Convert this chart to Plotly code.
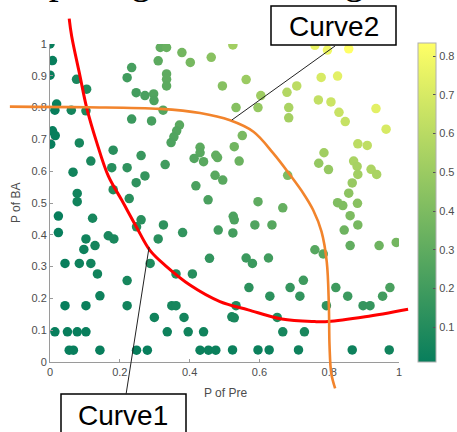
import plotly.graph_objects as go

# ---------------- data ----------------
px_pre = [0.000, 0.007, 0.000, 0.019, 0.014, 0.061, 0.103, 0.076, 0.105, 0.007,
          0.015, 0.002, 0.084, 0.117, 0.066, 0.181, 0.177, 0.181, 0.078, 0.078,
          0.024, 0.024, 0.122, 0.103, 0.097, 0.129, 0.167, 0.183, 0.043, 0.084,
          0.117, 0.136, 0.143, 0.043, 0.103, 0.014, 0.050, 0.078, 0.103, 0.055,
          0.067, 0.143, 0.221, 0.227, 0.247, 0.272, 0.261, 0.330, 0.234, 0.221,
          0.247, 0.272, 0.297, 0.298, 0.324, 0.234, 0.291, 0.316, 0.334, 0.310,
          0.378, 0.402, 0.334, 0.334, 0.334, 0.371, 0.363, 0.355, 0.347, 0.430,
          0.430, 0.413, 0.440, 0.475, 0.480, 0.473, 0.495, 0.418, 0.453, 0.462,
          0.524, 0.494, 0.221, 0.221, 0.248, 0.261, 0.325, 0.310, 0.380, 0.287,
          0.361, 0.408, 0.349, 0.361, 0.299, 0.384, 0.336, 0.396, 0.440, 0.248,
          0.279, 0.430, 0.454, 0.475, 0.457, 0.482, 0.562, 0.604, 0.533, 0.596,
          0.679, 0.707, 0.684, 0.684, 0.759, 0.795, 0.856, 0.777, 0.824, 0.769,
          0.805, 0.828, 0.846, 0.934, 0.963, 0.882, 0.909, 0.551, 0.528, 0.542,
          0.681, 0.785, 0.770, 0.798, 0.870, 0.880, 0.882, 0.920, 0.936, 0.866,
          0.856, 0.596, 0.824, 0.839, 0.881, 0.667, 0.525, 0.528, 0.524, 0.587,
          0.636, 0.860, 0.882, 0.843, 0.860, 0.943, 0.992, 0.759, 0.783, 0.562,
          0.580, 0.626, 0.726, 0.570, 0.688, 0.630, 0.716, 0.819, 0.853, 0.974,
          0.953, 0.897, 0.917, 0.792, 0.533, 0.521, 0.528, 0.651, 0.667, 0.729,
          0.523, 0.596, 0.628, 0.712, 0.866, 0.972]
p_ba = [1.000, 0.948, 0.902, 0.811, 0.792, 0.792, 0.790, 0.889, 0.858, 0.727,
        0.712, 0.685, 0.689, 0.632, 0.597, 0.666, 0.611, 0.542, 0.530, 0.504,
        0.459, 0.407, 0.452, 0.387, 0.354, 0.366, 0.397, 0.387, 0.310, 0.310,
        0.310, 0.277, 0.208, 0.177, 0.177, 0.095, 0.095, 0.095, 0.095, 0.037,
        0.037, 0.037, 0.611, 0.514, 0.564, 0.585, 0.649, 0.621, 0.926, 0.894,
        0.847, 0.838, 0.843, 0.822, 0.792, 0.764, 0.758, 0.989, 0.989, 0.947,
        0.973, 0.942, 0.906, 0.889, 0.868, 0.745, 0.727, 0.708, 0.690, 0.675,
        0.658, 0.640, 0.630, 0.650, 0.643, 0.587, 0.572, 0.554, 0.510, 0.958,
        0.997, 0.868, 0.256, 0.177, 0.425, 0.447, 0.431, 0.387, 0.407, 0.310,
        0.277, 0.277, 0.177, 0.177, 0.140, 0.140, 0.095, 0.095, 0.095, 0.037,
        0.037, 0.037, 0.037, 0.037, 0.326, 0.415, 0.888, 0.838, 0.800, 0.800,
        0.848, 0.868, 0.800, 0.768, 0.996, 0.981, 0.985, 0.895, 0.899, 0.824,
        0.818, 0.785, 0.756, 0.797, 0.732, 0.686, 0.681, 0.712, 0.677, 0.632,
        0.587, 0.658, 0.625, 0.605, 0.632, 0.615, 0.590, 0.606, 0.590, 0.563,
        0.531, 0.504, 0.501, 0.492, 0.499, 0.485, 0.458, 0.447, 0.406, 0.431,
        0.431, 0.460, 0.431, 0.415, 0.366, 0.366, 0.376, 0.353, 0.340, 0.327,
        0.310, 0.327, 0.257, 0.234, 0.234, 0.207, 0.207, 0.234, 0.207, 0.234,
        0.207, 0.177, 0.177, 0.177, 0.177, 0.142, 0.139, 0.140, 0.095, 0.095,
        0.038, 0.038, 0.038, 0.038, 0.038, 0.038]
color_val = [0.00, 0.01, 0.00, 0.02, 0.01, 0.05, 0.08, 0.07, 0.09, 0.01,
             0.01, 0.00, 0.06, 0.07, 0.04, 0.12, 0.11, 0.10, 0.04, 0.04,
             0.01, 0.01, 0.06, 0.04, 0.03, 0.05, 0.07, 0.07, 0.01, 0.03,
             0.04, 0.04, 0.03, 0.01, 0.02, 0.00, 0.00, 0.01, 0.01, 0.00,
             0.00, 0.01, 0.14, 0.12, 0.14, 0.16, 0.17, 0.20, 0.22, 0.20,
             0.21, 0.23, 0.25, 0.24, 0.26, 0.18, 0.22, 0.31, 0.33, 0.29,
             0.37, 0.38, 0.30, 0.30, 0.29, 0.28, 0.26, 0.25, 0.24, 0.29,
             0.28, 0.26, 0.28, 0.31, 0.31, 0.28, 0.28, 0.23, 0.23, 0.44,
             0.52, 0.43, 0.06, 0.04, 0.11, 0.12, 0.14, 0.12, 0.15, 0.09,
             0.10, 0.11, 0.06, 0.06, 0.04, 0.05, 0.03, 0.04, 0.04, 0.01,
             0.01, 0.02, 0.02, 0.02, 0.15, 0.20, 0.50, 0.51, 0.43, 0.48,
             0.58, 0.61, 0.55, 0.53, 0.76, 0.78, 0.84, 0.70, 0.74, 0.63,
             0.66, 0.65, 0.64, 0.74, 0.70, 0.61, 0.62, 0.39, 0.36, 0.34,
             0.40, 0.52, 0.48, 0.48, 0.55, 0.54, 0.52, 0.56, 0.55, 0.49,
             0.45, 0.30, 0.41, 0.41, 0.44, 0.32, 0.24, 0.24, 0.21, 0.25,
             0.27, 0.40, 0.38, 0.35, 0.31, 0.35, 0.37, 0.27, 0.27, 0.18,
             0.18, 0.20, 0.19, 0.13, 0.16, 0.13, 0.15, 0.19, 0.18, 0.23,
             0.20, 0.16, 0.16, 0.14, 0.09, 0.07, 0.07, 0.09, 0.06, 0.07,
             0.02, 0.02, 0.02, 0.03, 0.03, 0.04]

curve1_x = [0.055, 0.062, 0.086, 0.105, 0.134, 0.167, 0.205, 0.248, 0.287, 0.334,
            0.401, 0.487, 0.568, 0.664, 0.759, 0.797, 0.903, 1.026]
curve1_y = [1.080, 1.025, 0.899, 0.800, 0.690, 0.585, 0.510, 0.424, 0.350, 0.300,
            0.242, 0.190, 0.164, 0.135, 0.127, 0.127, 0.142, 0.166]
curve2_x = [-0.115, 0.105, 0.315, 0.430, 0.516, 0.583, 0.640, 0.688, 0.726, 0.754,
            0.778, 0.793, 0.799, 0.801, 0.806, 0.817]
curve2_y = [0.803, 0.801, 0.796, 0.783, 0.760, 0.724, 0.656, 0.588, 0.530, 0.478,
            0.410, 0.315, 0.179, 0.050, -0.036, -0.083]

x_ticks = [0, 0.2, 0.4, 0.6, 0.8, 1]
y_ticks = [0, 0.1, 0.2, 0.3, 0.4, 0.5, 0.6, 0.7, 0.8, 0.9, 1]
cbar_ticks = [0.1, 0.2, 0.3, 0.4, 0.5, 0.6, 0.7, 0.8]

# ---------------- figure ----------------
W, H = 457, 432
summer = [[0, 'rgb(8,126,92)'], [1, 'rgb(255,255,102)']]
tickfont = dict(family='Liberation Sans, Arial, sans-serif', size=11, color='#4d4d4d')

fig = go.Figure()
fig.add_trace(go.Scatter(
    x=px_pre, y=p_ba, mode='markers',
    marker=dict(size=9.5, color=color_val, colorscale=summer, cmin=0.01, cmax=0.834,
                line=dict(width=0),
                colorbar=dict(x=418 / W, xanchor='left', y=(H - 362) / H, yanchor='bottom',
                              len=319, lenmode='pixels', thickness=18,
                              outlinewidth=1, outlinecolor='#b0b0b0',
                              tickvals=cbar_ticks, ticks='inside', ticklen=3,
                              tickcolor='#555', tickfont=tickfont, xpad=0, ypad=0)),
    xaxis='x', yaxis='y', showlegend=False))

fig.add_trace(go.Scatter(x=curve1_x, y=curve1_y, mode='lines', line=dict(color='#ff0000', width=3, shape='spline'),
                         xaxis='x2', yaxis='y2', showlegend=False))
fig.add_trace(go.Scatter(x=curve2_x, y=curve2_y, mode='lines', line=dict(color='#f2842c', width=2.6, shape='spline'),
                         xaxis='x2', yaxis='y2', showlegend=False))

# overlay axes span the whole figure, with the same data scale as the main axes
x2_range = [(0 - 50) / 349, (W - 50) / 349]
y2_range = [(362 - H) / 318, (362 - 0) / 318]

fig.update_layout(
    width=W, height=H, margin=dict(l=0, r=0, t=0, b=0, autoexpand=False),
    paper_bgcolor='white', plot_bgcolor='rgba(0,0,0,0)',
    xaxis=dict(domain=[50 / W, 399 / W], range=[0, 1], tickvals=x_ticks,
               showline=True, linecolor='#9a9a9a', linewidth=1, ticks='inside', ticklen=3,
               tickcolor='#9a9a9a', showgrid=False, zeroline=False, tickfont=tickfont,
               anchor='y', automargin=False),
    yaxis=dict(domain=[(H - 362) / H, (H - 44) / H], range=[0, 1], tickvals=y_ticks,
               showline=True, linecolor='#9a9a9a', linewidth=1, ticks='inside', ticklen=3,
               tickcolor='#9a9a9a', showgrid=False, zeroline=False, tickfont=tickfont,
               anchor='x', automargin=False),
    xaxis2=dict(domain=[0, 1], range=x2_range, visible=False, anchor='y2', fixedrange=True),
    yaxis2=dict(domain=[0, 1], range=y2_range, visible=False, anchor='x2', fixedrange=True),
)

axfont = dict(family='Liberation Sans, Arial', size=12, color='#4d4d4d')
# axis titles
fig.add_annotation(text='P of Pre', xref='paper', yref='paper', x=225 / W, y=(H - 393) / H,
                   xanchor='center', yanchor='middle', showarrow=False, font=axfont)
fig.add_annotation(text='P of BA', xref='paper', yref='paper', x=16 / W, y=(H - 203) / H,
                   xanchor='center', yanchor='middle', textangle=-90, showarrow=False, font=axfont)

# cropped title at the top (only its descenders are inside the picture)
fig.add_annotation(text='Comparing the Learning', xref='paper', yref='paper', x=-31 / W, y=(H - 4) / H,
                   xanchor='left', yanchor='bottom', showarrow=False,
                   font=dict(family='Liberation Serif, Times New Roman, serif', size=40, color='black'))

# callout boxes
boxfont = dict(family='Liberation Sans, Arial', size=28, color='black')
fig.add_shape(type='rect', xref='paper', yref='paper', x0=271 / W, x1=396 / W,
              y0=(H - 45) / H, y1=(H - 6) / H, line=dict(color='black', width=1.5), fillcolor='white')
fig.add_annotation(text='Curve2', xref='paper', yref='paper', x=333.5 / W, y=(H - 26) / H,
                   xanchor='center', yanchor='middle', showarrow=False, font=boxfont)
fig.add_shape(type='rect', xref='paper', yref='paper', x0=61 / W, x1=186 / W,
              y0=-20 / H, y1=(H - 394) / H, line=dict(color='black', width=1.5), fillcolor='white')
fig.add_annotation(text='Curve1', xref='paper', yref='paper', x=123 / W, y=(H - 415) / H,
                   xanchor='center', yanchor='middle', showarrow=False, font=boxfont)

# callout leader lines
fig.add_shape(type='line', xref='x2', yref='y2', x0=0.817, y0=0.994, x1=0.521, y1=0.761,
              line=dict(color='#222', width=1))
fig.add_shape(type='line', xref='x2', yref='y2', x0=0.218, y0=-0.101, x1=0.284, y1=0.362,
              line=dict(color='#222', width=1))

# remove the default page margin so the figure sits at the window's top-left corner
fig.write_html('out.html', config={'displayModeBar': False},
               post_script="document.body.style.margin='0';")
